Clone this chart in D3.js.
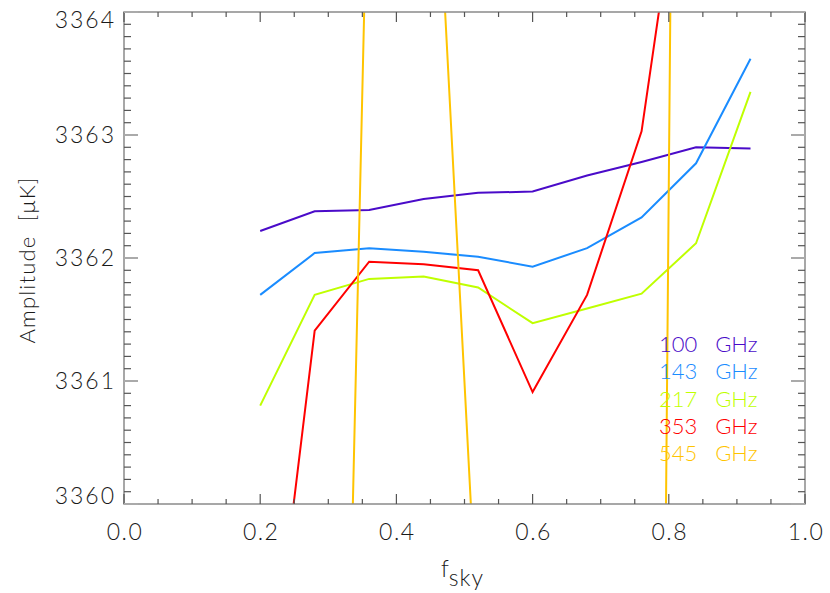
<!DOCTYPE html>
<html>
<head>
<meta charset="utf-8">
<script src="https://cdn.jsdelivr.net/npm/d3@7"></script>
<style>
  body { margin: 0; background: #fff; }
  text { font-family: Lato, "DejaVu Sans", sans-serif; font-weight: 300; fill: #1a1a1a; }
</style>
</head>
<body>
<div id="plot"></div>
<script>
// Data
var fsky = [0.2, 0.28, 0.36, 0.44, 0.52, 0.6, 0.68, 0.76, 0.84, 0.92];
var amp100 = [3362.22, 3362.38, 3362.39, 3362.48, 3362.53, 3362.54, 3362.67, 3362.78, 3362.90, 3362.89];
var amp143 = [3361.70, 3362.04, 3362.08, 3362.05, 3362.01, 3361.93, 3362.08, 3362.33, 3362.77, 3363.62];
var amp217 = [3360.80, 3361.70, 3361.83, 3361.85, 3361.76, 3361.47, 3361.59, 3361.71, 3362.12, 3363.35];
var amp353 = [3357.76, 3361.41, 3361.97, 3361.95, 3361.90, 3360.91, 3361.70, 3363.03, 3366.08, 3368.0];
var amp545 = [3350.0, 3346.49, 3365.77, 3367.34, 3358.87, 3350.0, 3340.0, 3337.3, 3387.9, 3390.0];

var labels = ["100 GHz", "143 GHz", "217 GHz", "353 GHz", "545 GHz"];
var colours = ["#4a0bc9", "#1a8cff", "#bfff00", "#ff0000", "#ffc400"];
var series = [amp100, amp143, amp217, amp353, amp545];

var xTicks = [0, 0.2, 0.4, 0.6, 0.8, 1.0];
var yTicks = [3360, 3361, 3362, 3363, 3364];

// Canvas
var width = 830, height = 593;
var plotLeft = 124, plotRight = 805, plotTop = 12, plotBottom = 504;

var svg = d3.select("#plot")
    .append("svg")
    .attr("width", width)
    .attr("height", height);

var x = d3.scaleLinear().domain([0, 1]).range([plotLeft, plotRight]);
var y = d3.scaleLinear().domain([3360, 3364]).range([plotBottom, plotTop]);

svg.append("clipPath")
    .attr("id", "clip")
    .append("rect")
    .attr("x", plotLeft)
    .attr("y", plotTop)
    .attr("width", plotRight - plotLeft)
    .attr("height", plotBottom - plotTop);

// Lines
var line = d3.line()
    .x(function(d, i) { return x(fsky[i]); })
    .y(function(d) { return y(d); });

svg.append("g")
    .attr("clip-path", "url(#clip)")
    .selectAll("path")
    .data(series)
    .enter()
    .append("path")
    .attr("d", line)
    .attr("fill", "none")
    .attr("stroke", function(d, i) { return colours[i]; })
    .attr("stroke-width", 2);

// Frame
svg.append("rect")
    .attr("x", plotLeft)
    .attr("y", plotTop)
    .attr("width", plotRight - plotLeft)
    .attr("height", plotBottom - plotTop)
    .attr("fill", "none")
    .attr("stroke", "#8a8a8a")
    .attr("stroke-width", 1.5);

// X ticks (bottom and top, inward)
var xMinor = d3.range(0, 1.0001, 0.05);
var tickColour = "#555";
xMinor.forEach(function(v) {
    var major = Math.abs(v * 5 - Math.round(v * 5)) < 1e-6;
    var len = major ? 10 : 5;
    svg.append("line")
        .attr("x1", x(v)).attr("x2", x(v))
        .attr("y1", plotBottom).attr("y2", plotBottom - len)
        .attr("stroke", tickColour).attr("stroke-width", 1.2);
    svg.append("line")
        .attr("x1", x(v)).attr("x2", x(v))
        .attr("y1", plotTop).attr("y2", plotTop + len)
        .attr("stroke", tickColour).attr("stroke-width", 1.2);
});

// Y ticks (left and right, inward)
var yMinor = d3.range(3360, 3364.0001, 0.1);
yMinor.forEach(function(v) {
    var major = Math.abs(v - Math.round(v)) < 1e-6;
    var len = major ? 14 : 7;
    svg.append("line")
        .attr("x1", plotLeft).attr("x2", plotLeft + len)
        .attr("y1", y(v)).attr("y2", y(v))
        .attr("stroke", major ? "#aaa" : tickColour).attr("stroke-width", major ? 2 : 1.2);
    svg.append("line")
        .attr("x1", plotRight).attr("x2", plotRight - len)
        .attr("y1", y(v)).attr("y2", y(v))
        .attr("stroke", major ? "#aaa" : tickColour).attr("stroke-width", major ? 2 : 1.2);
});

// Tick labels
svg.selectAll(".xlab")
    .data(xTicks)
    .enter()
    .append("text")
    .attr("x", function(d) { return x(d) + 1; })
    .attr("y", 540)
    .attr("text-anchor", "middle")
    .style("font-size", "23px")
    .style("letter-spacing", "1.5px")
    .text(function(d) { return d.toFixed(1); });

svg.selectAll(".ylab")
    .data(yTicks)
    .enter()
    .append("text")
    .attr("x", 116)
    .attr("y", function(d) {
        var p = y(d) + 8;
        if (d == 3364) p += 8;
        if (d == 3360) p -= 8;
        return p;
    })
    .attr("text-anchor", "end")
    .style("font-size", "23px")
    .style("letter-spacing", "2px")
    .text(function(d) { return d; });

// Axis titles
var xt = svg.append("text")
    .attr("x", 441)
    .attr("y", 577)
    .style("font-size", "23px");
xt.append("tspan").text("f");
xt.append("tspan").attr("dy", 9).style("letter-spacing", "1px").text("sky");

svg.append("text")
    .attr("transform", "translate(35,260) rotate(-90)")
    .attr("text-anchor", "middle")
    .style("font-size", "22px")
    .style("letter-spacing", "1.2px")
    .style("white-space", "pre")
    .text("Amplitude  [\u03BCK]");

// Legend
svg.selectAll(".leg")
    .data(labels)
    .enter()
    .append("text")
    .attr("x", 659)
    .attr("y", function(d, i) { return 352 + i * 27.3; })
    .style("font-size", "22px")
    .style("fill", function(d, i) { return colours[i]; })
    .style("white-space", "pre")
    .text(function(d) { return d.replace(" ", "   "); });
</script>
</body>
</html>
